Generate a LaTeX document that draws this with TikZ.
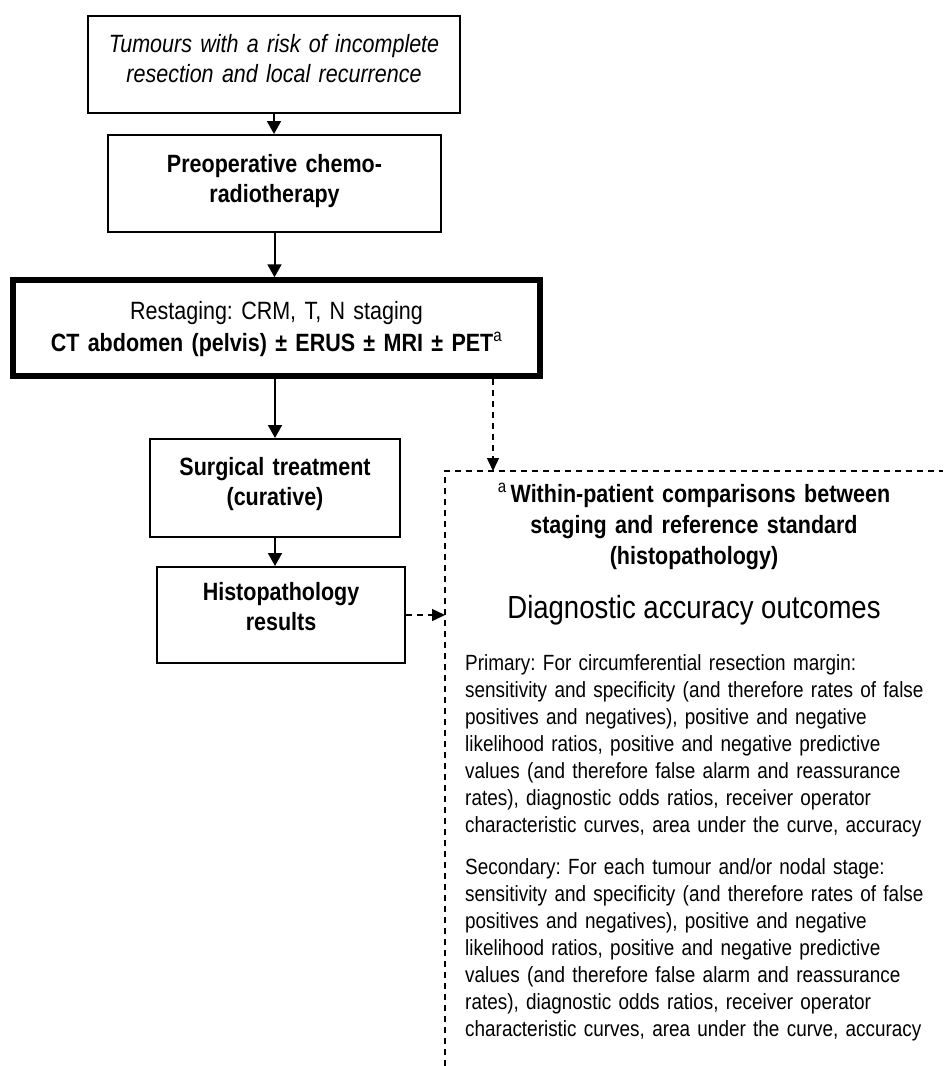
\documentclass[tikz,border=0pt]{standalone}
\usepackage{fontspec}
\setmainfont{Liberation Sans}[FakeStretch=0.86]
\usetikzlibrary{arrows.meta}
\begin{document}
\frenchspacing
\begin{tikzpicture}[x=1pt,y=-1pt,
  flowbox/.style={draw,line width=2pt,rectangle,inner sep=0pt,align=center},
  flow/.style={line width=2pt,-{Triangle[width=14pt,length=13pt]}},
  dashline/.style={line width=1.5pt,dash pattern=on 6pt off 5pt},
  dashflow/.style={dashline,-{Triangle[width=12pt,length=13pt]}},
  boxfont/.style={font=\fontsize{25}{30}\selectfont\bfseries},
  bodytext/.style={anchor=base west,inner sep=0pt,text width=600pt,align=left,
                   font=\fontsize{22}{27}\selectfont},
]
\useasboundingbox (0,0) rectangle (943,1066);

% main flow (text height/depth fix the first baseline inside each box)
\node[flowbox, minimum width=372pt, minimum height=97pt, text width=360pt,
      text height=36pt, text depth=61pt,
      font=\fontsize{25}{30}\selectfont\itshape] (risk) at (274,64.5)
  {Tumours with a risk of incomplete\\resection and local recurrence};
\node[flowbox, boxfont, minimum width=333pt, minimum height=97pt, text width=320pt,
      text height=37pt, text depth=60pt] (chemo) at (274.5,183.5)
  {Preoperative chemo-\\radiotherapy};
\node[flowbox, line width=5.5pt, minimum width=527pt, minimum height=96pt, text width=510pt,
      text height=39pt, text depth=57pt,
      font=\fontsize{25}{32}\selectfont] (restage) at (276.5,328)
  {Restaging: CRM, T, N staging\\\textbf{CT abdomen (pelvis) ± ERUS ± MRI ± PET}\textsuperscript{a}};
\node[flowbox, boxfont, minimum width=250pt, minimum height=98pt, text width=240pt,
      text height=36pt, text depth=62pt] (surg) at (275,488)
  {Surgical treatment\\(curative)};
\node[flowbox, boxfont, minimum width=248pt, minimum height=96pt, text width=240pt,
      text height=33pt, text depth=63pt] (histo) at (281,615)
  {Histopathology\\results};

% open outcome panel
\node[anchor=north west, inner sep=0pt, minimum width=498pt, minimum height=595pt] (outcomes) at (445,471) {};
\draw[dashline] (outcomes.south west) -- (outcomes.north west) -- (outcomes.north east);

\node[anchor=base, inner sep=0pt, text width=480pt, align=center,
      font=\fontsize{25}{31}\selectfont\bfseries] (compare) at (694,502)
  {\textsuperscript{\mdseries a}\hspace{4pt}Within-patient comparisons between\\staging and reference standard\\(histopathology)};
\node[anchor=base, inner sep=0pt, font=\fontsize{32}{38}\selectfont] (dacc) at (694,618)
  {Diagnostic accuracy outcomes};
\node[bodytext] (primary) at (465,670)
  {Primary: For circumferential resection margin:\\
   sensitivity and specificity (and therefore rates of false\\
   positives and negatives), positive and negative\\
   likelihood ratios, positive and negative predictive\\
   values (and therefore false alarm and reassurance\\
   rates), diagnostic odds ratios, receiver operator\\
   characteristic curves, area under the curve, accuracy};
\node[bodytext] (secondary) at (465,874)
  {Secondary: For each tumour and/or nodal stage:\\
   sensitivity and specificity (and therefore rates of false\\
   positives and negatives), positive and negative\\
   likelihood ratios, positive and negative predictive\\
   values (and therefore false alarm and reassurance\\
   rates), diagnostic odds ratios, receiver operator\\
   characteristic curves, area under the curve, accuracy};

% connectors
\draw[flow] (risk.south) -- (risk.south |- chemo.north);
\draw[flow] (chemo.south) -- (chemo.south |- restage.north);
\draw[flow] (surg.north |- restage.south) -- (surg.north);
\draw[flow] (surg.south) -- (surg.south |- histo.north);
\draw[dashflow] (histo.east) -- (histo.east -| outcomes.west);
\draw[dashflow] ([xshift=216.5pt]restage.south) -- ([xshift=216.5pt]restage.south |- outcomes.north);
\end{tikzpicture}
\end{document}
